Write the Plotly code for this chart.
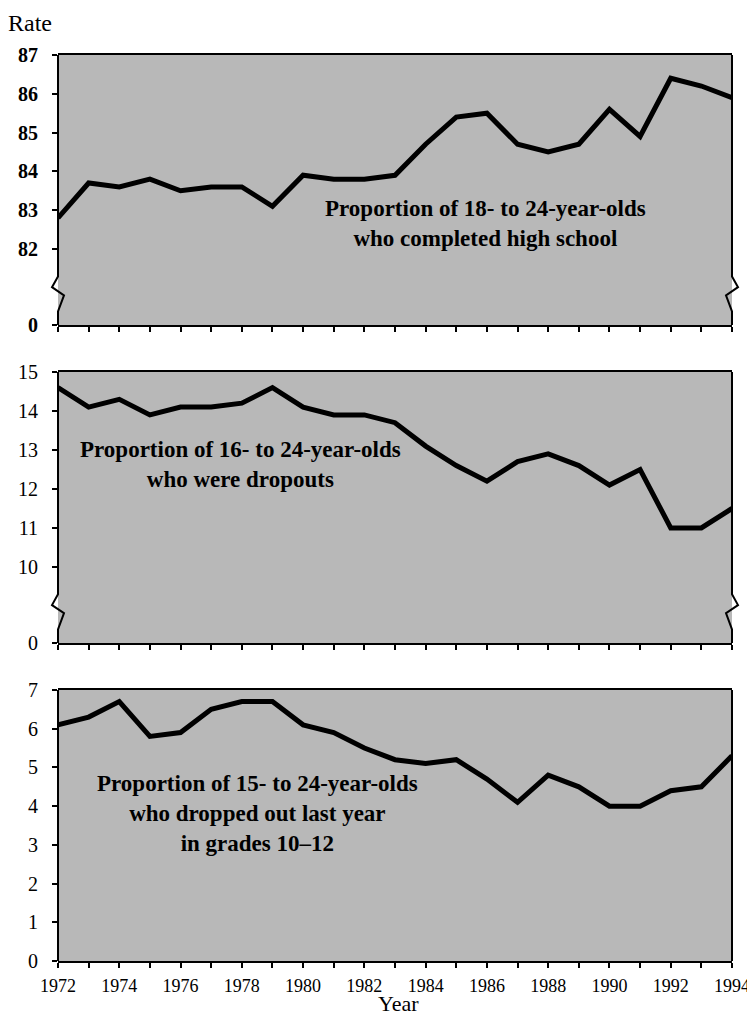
import plotly.graph_objects as go
from plotly.subplots import make_subplots

years = list(range(1972, 1995))

completed_hs = [82.8, 83.7, 83.6, 83.8, 83.5, 83.6, 83.6, 83.1, 83.9, 83.8, 83.8, 83.9,
                84.7, 85.4, 85.5, 84.7, 84.5, 84.7, 85.6, 84.9, 86.4, 86.2, 85.9]
dropouts_status = [14.6, 14.1, 14.3, 13.9, 14.1, 14.1, 14.2, 14.6, 14.1, 13.9, 13.9, 13.7,
                   13.1, 12.6, 12.2, 12.7, 12.9, 12.6, 12.1, 12.5, 11.0, 11.0, 11.5]
dropouts_event = [6.1, 6.3, 6.7, 5.8, 5.9, 6.5, 6.7, 6.7, 6.1, 5.9, 5.5, 5.2,
                  5.1, 5.2, 4.7, 4.1, 4.8, 4.5, 4.0, 4.0, 4.4, 4.5, 5.3]

top_ticks = [82, 83, 84, 85, 86, 87]
mid_ticks = [10, 11, 12, 13, 14, 15]
bot_ticks = [0, 1, 2, 3, 4, 5, 6, 7]
top_range = [80.04, 87]
mid_range = [8.05, 15]
bot_range = [0, 7]

x_tick_text = [str(y) if y % 2 == 0 else "" for y in years]

label_top = "Proportion of 18- to 24-year-olds<br>who completed high school"
label_mid = "Proportion of 16- to 24-year-olds<br>who were dropouts"
label_bot = "Proportion of 15- to 24-year-olds<br>who dropped out last year<br>in grades 10\u201312"

SERIF = "Liberation Serif"
BG = "#b8b8b8"

fig = make_subplots(rows=3, cols=1, shared_xaxes=False, vertical_spacing=0.0)

for i, vals in enumerate([completed_hs, dropouts_status, dropouts_event], start=1):
    fig.add_trace(go.Scatter(x=years, y=vals, mode="lines",
                             line=dict(color="black", width=5),
                             showlegend=False, hoverinfo="skip"), row=i, col=1)

H = 906.0
W = 674.0
dom_top = [(961 - 325) / H, 1.0]
dom_mid = [(961 - 643) / H, (961 - 372) / H]
dom_bot = [0.0, (961 - 690) / H]

common_x = dict(range=[1972, 1994], tickmode="array", tickvals=years,
                ticks="outside", ticklen=5, tickwidth=1.5, tickcolor="black",
                showline=True, linecolor="black", linewidth=2, mirror=True,
                showgrid=False, zeroline=False, automargin=False,
                ticklabeloverflow="allow",
                tickfont=dict(family=SERIF, size=18, color="black"))

fig.update_layout(
    xaxis=dict(**common_x, ticktext=[""] * len(years)),
    xaxis2=dict(**common_x, ticktext=[""] * len(years)),
    xaxis3=dict(**common_x, ticktext=x_tick_text, ticklabelstandoff=2),
)

common_y = dict(ticks="outside", ticklen=5, tickwidth=1.5, tickcolor="black",
                showline=False, showgrid=False, zeroline=False, automargin=False,
                ticklabelstandoff=10)

fig.update_layout(
    yaxis=dict(**common_y, domain=dom_top, range=top_range, tickmode="array",
               tickvals=[top_range[0]] + top_ticks,
               ticktext=["0"] + [str(t) for t in top_ticks],
               tickfont=dict(family=SERIF, size=20, color="black", weight="bold")),
    yaxis2=dict(**common_y, domain=dom_mid, range=mid_range, tickmode="array",
                tickvals=[mid_range[0]] + mid_ticks,
                ticktext=["0"] + [str(t) for t in mid_ticks],
                tickfont=dict(family=SERIF, size=20, color="black")),
    yaxis3=dict(**common_y, domain=dom_bot, range=bot_range, tickmode="array",
                tickvals=bot_ticks, ticktext=[str(t) for t in bot_ticks],
                tickfont=dict(family=SERIF, size=20, color="black")),
)

# panel backgrounds and side borders (with axis-break zigzags on the top two panels)
shapes = []
for xr, yr, brk in [("x", "y", True), ("x2", "y2", True), ("x3", "y3", False)]:
    shapes.append(dict(type="rect", xref=xr + " domain", yref=yr + " domain",
                       x0=0, x1=1, y0=0, y1=1, fillcolor=BG, line=dict(width=0),
                       layer="below"))
    if brk:
        a, b, c, d = 0.18, 0.14, 0.11, 0.05
        dl, dr = 6 / W, 6 / W
        left = f"M 0 1 L 0 {a} L {-dl} {b} L {dr} {c} L 0 {d} L 0 0"
        right = f"M 1 1 L 1 {a} L {1 + dl} {b} L {1 - dr} {c} L 1 {d} L 1 0"
    else:
        left = "M 0 1 L 0 0"
        right = "M 1 1 L 1 0"
    for p in (left, right):
        shapes.append(dict(type="path", xref=xr + " domain", yref=yr + " domain",
                           path=p, line=dict(color="black", width=2), layer="above"))

ann_font = dict(family=SERIF, size=23, color="black", weight="bold")
annotations = [
    dict(text=label_top, x=1985.95, y=82.65, xref="x", yref="y", showarrow=False,
         font=ann_font, align="center"),
    dict(text=label_mid, x=1977.95, y=12.62, xref="x2", yref="y2", showarrow=False,
         font=ann_font, align="center"),
    dict(text=label_bot, x=1978.5, y=3.8, xref="x3", yref="y3", showarrow=False,
         font=ann_font, align="center"),
    dict(text="Rate", x=(6 - 58) / W, y=1 + (55 - 23) / H, xref="paper", yref="paper",
         xanchor="left", yanchor="middle", showarrow=False,
         font=dict(family=SERIF, size=24, color="black")),
    dict(text="Year", x=(398 - 58) / W, y=-(1004 - 961) / H, xref="paper", yref="paper",
         xanchor="center", yanchor="middle", showarrow=False,
         font=dict(family=SERIF, size=22, color="black")),
]

fig.update_layout(
    width=747, height=1017,
    margin=dict(l=58, r=15, t=55, b=56, autoexpand=False),
    paper_bgcolor="white", plot_bgcolor="rgba(0,0,0,0)",
    shapes=shapes, annotations=annotations,
    font=dict(family=SERIF, color="black"),
)

fig.write_html("out.html", config={"displayModeBar": False},
               post_script="document.body.style.margin='0';document.body.style.overflow='hidden';")
